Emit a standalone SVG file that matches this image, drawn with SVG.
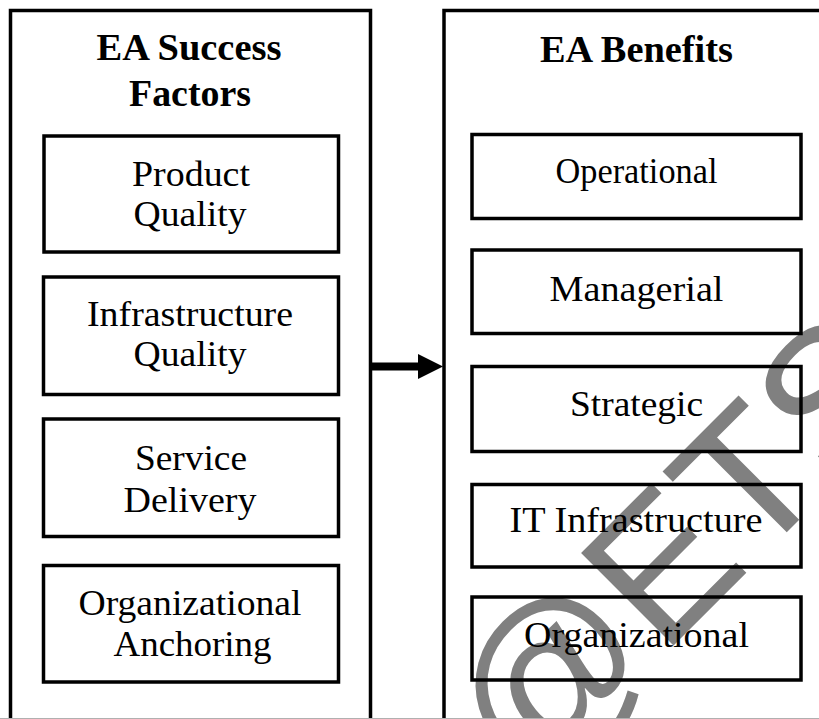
<svg xmlns="http://www.w3.org/2000/svg" width="819" height="719" viewBox="0 0 819 719">
  <style>
    .outer { fill: none; stroke: #000; stroke-width: 3.5; }
    .box { fill: none; stroke: #000; stroke-width: 3.5; }
    .title { font-family: "Liberation Serif", "Times New Roman", serif; font-weight: bold; font-size: 37px; fill: #000; text-anchor: middle; }
    .lbl { font-family: "Liberation Serif", "Times New Roman", serif; font-size: 35px; fill: #000; text-anchor: middle; }
    .wm { font-family: "Liberation Sans", Arial, sans-serif; font-size: 190px; fill: #808080; }
  </style>
  <defs>
    <marker id="head" markerUnits="userSpaceOnUse" markerWidth="26" markerHeight="26" refX="2" refY="12.5" orient="auto">
      <path d="M0,0 L25,12.5 L0,25 Z" fill="#000"/>
    </marker>
  </defs>
  <rect width="819" height="719" fill="#fff"/>

  <g id="watermark">
    <text class="wm" x="526" y="793" transform="rotate(-45 526 793)">@ETS</text>
  </g>

  <g id="success-factors">
    <rect class="outer" x="10.5" y="10.5" width="360" height="730"/>
    <text class="title" x="189" y="60" textLength="185" lengthAdjust="spacingAndGlyphs">EA Success</text>
    <text class="title" x="190" y="106" textLength="122" lengthAdjust="spacingAndGlyphs">Factors</text>
  </g>
  <g id="product-quality">
    <rect class="box" x="44" y="136" width="294.5" height="116"/>
    <text class="lbl" x="191" y="186" textLength="118" lengthAdjust="spacingAndGlyphs">Product</text>
    <text class="lbl" x="190" y="226" textLength="113" lengthAdjust="spacingAndGlyphs">Quality</text>
  </g>
  <g id="infrastructure-quality">
    <rect class="box" x="43.5" y="277" width="295" height="117.5"/>
    <text class="lbl" x="190" y="326" textLength="206" lengthAdjust="spacingAndGlyphs">Infrastructure</text>
    <text class="lbl" x="190" y="366" textLength="113" lengthAdjust="spacingAndGlyphs">Quality</text>
  </g>
  <g id="service-delivery">
    <rect class="box" x="43.5" y="419" width="295" height="117.5"/>
    <text class="lbl" x="191" y="470" textLength="112" lengthAdjust="spacingAndGlyphs">Service</text>
    <text class="lbl" x="190" y="512" textLength="133" lengthAdjust="spacingAndGlyphs">Delivery</text>
  </g>
  <g id="organizational-anchoring">
    <rect class="box" x="43.5" y="565.5" width="295" height="116.5"/>
    <text class="lbl" x="190" y="615" textLength="223" lengthAdjust="spacingAndGlyphs">Organizational</text>
    <text class="lbl" x="192.5" y="656" textLength="158" lengthAdjust="spacingAndGlyphs">Anchoring</text>
  </g>

  <g id="ea-benefits">
    <rect class="outer" x="444" y="10.5" width="400" height="730"/>
    <text class="title" x="636.5" y="62" textLength="193" lengthAdjust="spacingAndGlyphs">EA Benefits</text>
  </g>
  <g id="operational">
    <rect class="box" x="472" y="134.5" width="329" height="84"/>
    <text class="lbl" x="636.5" y="183" textLength="162" lengthAdjust="spacingAndGlyphs">Operational</text>
  </g>
  <g id="managerial">
    <rect class="box" x="472" y="250" width="329" height="83.5"/>
    <text class="lbl" x="636.5" y="301" textLength="174" lengthAdjust="spacingAndGlyphs">Managerial</text>
  </g>
  <g id="strategic">
    <rect class="box" x="472" y="366.5" width="329" height="85"/>
    <text class="lbl" x="636.5" y="416" textLength="133" lengthAdjust="spacingAndGlyphs">Strategic</text>
  </g>
  <g id="it-infrastructure">
    <rect class="box" x="472" y="484.5" width="329" height="82.5"/>
    <text class="lbl" x="636" y="532" textLength="253" lengthAdjust="spacingAndGlyphs">IT Infrastructure</text>
  </g>
  <g id="organizational">
    <rect class="box" x="472" y="597" width="329" height="83"/>
    <text class="lbl" x="636.5" y="647" textLength="225" lengthAdjust="spacingAndGlyphs">Organizational</text>
  </g>

  <g id="connectors">
    <line x1="372" y1="366.5" x2="420" y2="366.5" stroke="#000" stroke-width="8" marker-end="url(#head)"/>
  </g>

  <line x1="0" y1="718.5" x2="819" y2="718.5" stroke="#b0b0b0" stroke-width="1"/>
</svg>
